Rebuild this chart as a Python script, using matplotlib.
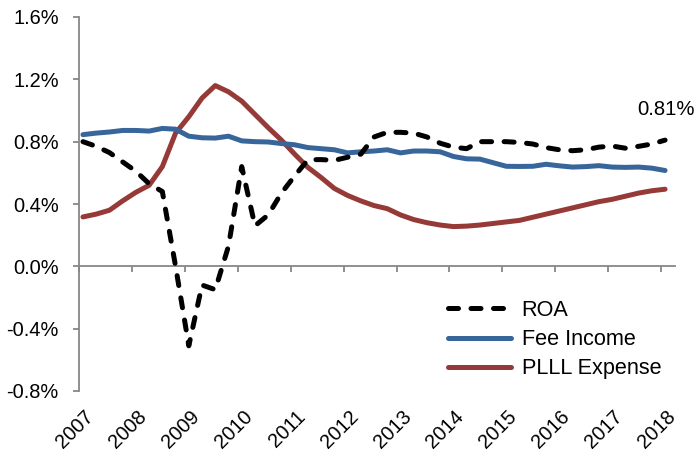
import numpy as np
import matplotlib
matplotlib.use("Agg")
import matplotlib.pyplot as plt
import matplotlib.transforms as mtransforms

plt.rcParams['font.family'] = ['Liberation Sans', 'DejaVu Sans']

# quarterly data, 2007Q1 .. 2018Q1 (values in %)
years = ['2007', '2008', '2009', '2010', '2011', '2012',
         '2013', '2014', '2015', '2016', '2017', '2018']

roa = [0.80, 0.77, 0.73, 0.67, 0.61, 0.53, 0.48, 0.00, -0.51, -0.12,
       -0.15, 0.13, 0.64, 0.26, 0.33, 0.47, 0.58, 0.684, 0.685, 0.68,
       0.70, 0.72, 0.83, 0.86, 0.86, 0.855, 0.83, 0.79, 0.765, 0.755,
       0.80, 0.80, 0.80, 0.795, 0.785, 0.762, 0.748, 0.742, 0.748, 0.765,
       0.772, 0.758, 0.77, 0.785, 0.81]

fee_income = [0.845, 0.855, 0.862, 0.872, 0.872, 0.868, 0.885, 0.88, 0.835, 0.825,
              0.823, 0.835, 0.805, 0.80, 0.798, 0.788, 0.78, 0.762, 0.755, 0.748,
              0.728, 0.735, 0.74, 0.748, 0.728, 0.74, 0.74, 0.735, 0.705, 0.69,
              0.688, 0.665, 0.642, 0.641, 0.642, 0.655, 0.645, 0.637, 0.64, 0.646,
              0.637, 0.635, 0.637, 0.63, 0.615]

plll_expense = [0.317, 0.335, 0.36, 0.42, 0.475, 0.52, 0.64, 0.855, 0.96, 1.08,
                1.16, 1.12, 1.06, 0.975, 0.89, 0.81, 0.72, 0.635, 0.57, 0.50,
                0.455, 0.42, 0.39, 0.37, 0.33, 0.30, 0.28, 0.265, 0.255, 0.258,
                0.265, 0.275, 0.285, 0.295, 0.315, 0.335, 0.355, 0.375, 0.395, 0.415,
                0.43, 0.45, 0.47, 0.485, 0.495]

q = np.arange(len(roa))
axis_gray = '#878787'

fig = plt.figure(figsize=(6.94, 4.51), dpi=100)
ax = fig.add_axes([79 / 694, 1 - 391 / 451, (675 - 79) / 694, (391 - 17) / 451])

lw = 3.6
ax.plot(q, roa, color='black', lw=lw, linestyle=(0, (2.0, 2.5)),
        dash_capstyle='round', label='ROA', zorder=4)
ax.plot(q, fee_income, color='#38659A', lw=lw, solid_capstyle='round',
        label='Fee Income', zorder=3)
ax.plot(q, plll_expense, color='#963A38', lw=lw, solid_capstyle='round',
        label='PLLL Expense', zorder=2)

ax.set_xlim(-0.3, 44.75)
ax.set_ylim(-0.8, 1.6)

# y axis
ax.set_yticks(np.arange(-0.8, 1.61, 0.4))
ax.set_yticklabels([f'{v:.1f}%' for v in np.arange(-0.8, 1.61, 0.4)], fontsize=14.4)
ax.tick_params(axis='y', direction='out', length=4.5, width=1.3, color=axis_gray, pad=10)

# x axis sits on zero, labels go to the bottom
ax.spines['bottom'].set_position(('data', 0))
ticks = np.arange(0, 45, 4) - 0.3
ax.set_xticks(ticks)
ax.set_xticklabels([])
ax.tick_params(axis='x', direction='out', length=4.5, width=1.3, color=axis_gray)

base = mtransforms.blended_transform_factory(ax.transData, ax.transAxes)
lab_trans = mtransforms.offset_copy(base, fig=fig, x=5, y=-16, units='dots')
for t, yr in zip(ticks, years):
    ax.text(t, 0, yr, transform=lab_trans, rotation=45, rotation_mode='anchor',
            ha='right', va='top', fontsize=14.4)

for s in ['top', 'right']:
    ax.spines[s].set_visible(False)
for s in ['left', 'bottom']:
    ax.spines[s].set_color(axis_gray)
    ax.spines[s].set_linewidth(1.3)

ax.annotate(f'{roa[-1]:.2f}%', xy=(q[-1], roa[-1]), xytext=(-20, 22),
            textcoords='offset points', ha='left', va='center', fontsize=14.6,
            annotation_clip=False)

fig.legend(loc='upper left', bbox_to_anchor=(448 / 694, 1 - 300 / 451),
           frameon=False, fontsize=15.6, handlelength=2.9, handletextpad=0.5,
           labelspacing=0.38, borderpad=0, borderaxespad=0)

fig.savefig('out.png', dpi=100)
